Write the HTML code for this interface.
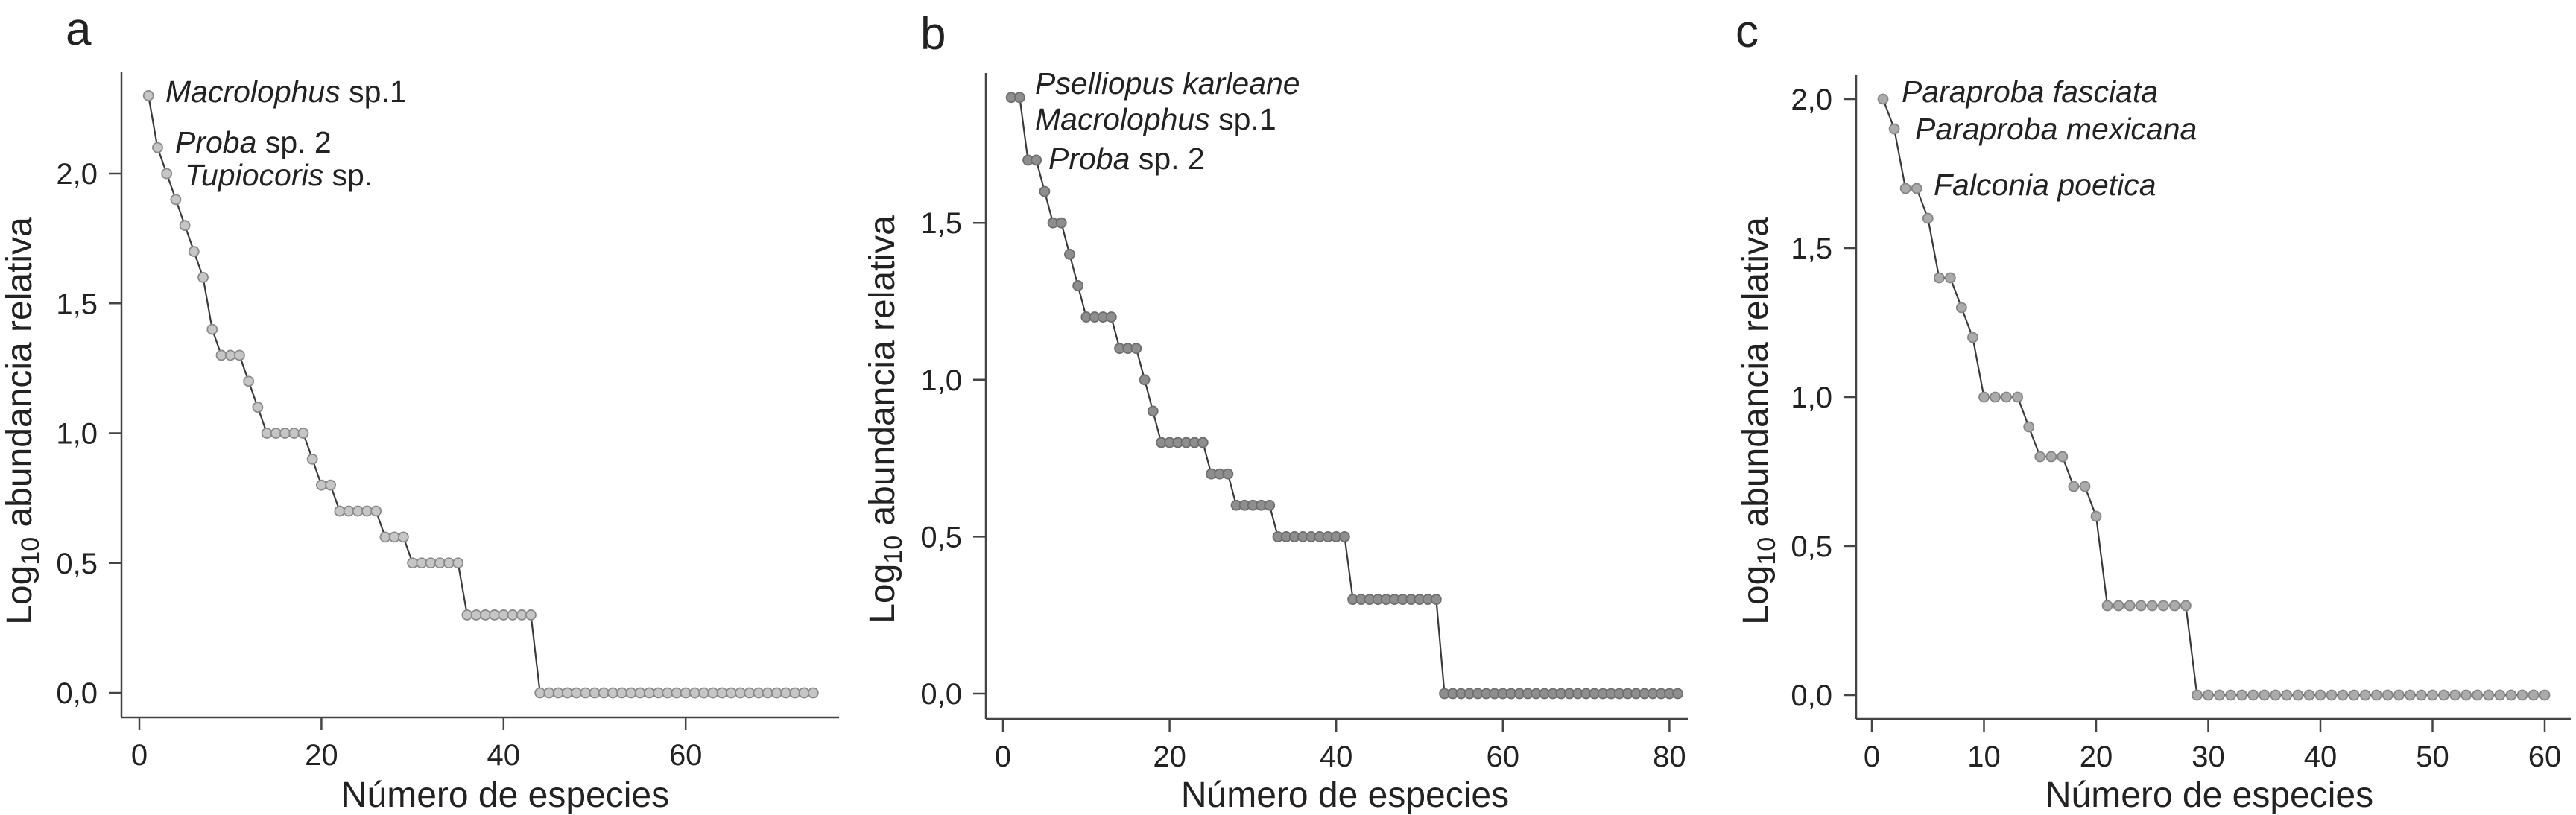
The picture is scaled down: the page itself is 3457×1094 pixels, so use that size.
<!DOCTYPE html>
<html><head><meta charset="utf-8">
<style>
html,body{margin:0;padding:0;background:#fff;}
svg{display:block;font-family:"Liberation Sans",Arial,sans-serif;}
</style></head>
<body>
<svg id="fig" width="3457" height="1094" viewBox="0 0 3457 1094" xmlns="http://www.w3.org/2000/svg"></svg>
<script>
// Panel a data (Log10 relative abundance per species rank)
const valuesA = [2.3,2.1,2.0,1.9,1.8,1.7,1.6,1.4,1.3,1.3,1.3,1.2,1.1,1.0,1.0,1.0,1.0,1.0,0.9,0.8,0.8,0.7,0.7,0.7,0.7,0.7,0.6,0.6,0.6,0.5,0.5,0.5,0.5,0.5,0.5,0.3,0.3,0.3,0.3,0.3,0.3,0.3,0.3,0,0,0,0,0,0,0,0,0,0,0,0,0,0,0,0,0,0,0,0,0,0,0,0,0,0,0,0,0,0,0];
// Panel b data
const valuesB = [1.9,1.9,1.7,1.7,1.6,1.5,1.5,1.4,1.3,1.2,1.2,1.2,1.2,1.1,1.1,1.1,1.0,0.9,0.8,0.8,0.8,0.8,0.8,0.8,0.7,0.7,0.7,0.6,0.6,0.6,0.6,0.6,0.5,0.5,0.5,0.5,0.5,0.5,0.5,0.5,0.5,0.3,0.3,0.3,0.3,0.3,0.3,0.3,0.3,0.3,0.3,0.3,0,0,0,0,0,0,0,0,0,0,0,0,0,0,0,0,0,0,0,0,0,0,0,0,0,0,0,0,0];
// Panel c data
const valuesC = [2.0,1.9,1.7,1.7,1.6,1.4,1.4,1.3,1.2,1.0,1.0,1.0,1.0,0.9,0.8,0.8,0.8,0.7,0.7,0.6,0.3,0.3,0.3,0.3,0.3,0.3,0.3,0.3,0,0,0,0,0,0,0,0,0,0,0,0,0,0,0,0,0,0,0,0,0,0,0,0,0,0,0,0,0,0,0,0];
const yTicksA = [0,0.5,1.0,1.5,2.0];
const yTickLabelsA = ["0,0","0,5","1,0","1,5","2,0"];
const xTicksA = [0,20,40,60];
const yTicksB = [0,0.5,1.0,1.5];
const yTickLabelsB = ["0,0","0,5","1,0","1,5"];
const xTicksB = [0,20,40,60,80];
const yTicksC = [0,0.5,1.0,1.5,2.0];
const yTickLabelsC = ["0,0","0,5","1,0","1,5","2,0"];
const xTicksC = [0,10,20,30,40,50,60];
const annotA = ["Macrolophus|sp.1","Proba|sp. 2","Tupiocoris|sp."];
const annotB = ["Pselliopus karleane|","Macrolophus|sp.1","Proba|sp. 2"];
const annotC = ["Paraproba fasciata|","Paraproba mexicana|","Falconia poetica|"];

const NS = "http://www.w3.org/2000/svg";
const svg = document.getElementById('fig');
function mk(tag, attrs, parent){
  const e = document.createElementNS(NS, tag);
  for (const k in attrs) e.setAttribute(k, attrs[k]);
  (parent||svg).appendChild(e);
  return e;
}

const panels = [
  {id:'a', values:valuesA, yTicks:yTicksA, yLabels:yTickLabelsA, xTicks:xTicksA, annot:annotA,
   axX:163, axTop:97, axBot:963, axRight:1126, x0px:187, xPer:12.22, y0px:930, yPer:348.5,
   fill:'#c6c6c6', stroke:'#8a8a8a', letterX:88, letterY:60,
   annPos:[[222,137],[235,205],[248,249]], yTitleX:42, yTitleY:565, xTitleX:678},
  {id:'b', values:valuesB, yTicks:yTicksB, yLabels:yTickLabelsB, xTicks:xTicksB, annot:annotB,
   axX:1323, axTop:98, axBot:965, axRight:2265, x0px:1346, xPer:11.18, y0px:931, yPer:421.2,
   fill:'#8e8e8e', stroke:'#6e6e6e', letterX:1235, letterY:66,
   annPos:[[1389,126],[1389,174],[1407,227]], yTitleX:1200, yTitleY:563, xTitleX:1805},
  {id:'c', values:valuesC, yTicks:yTicksC, yLabels:yTickLabelsC, xTicks:xTicksC, annot:annotC,
   axX:2491, axTop:101, axBot:965, axRight:3450, x0px:2512, xPer:15.05, y0px:933, yPer:400,
   fill:'#ababab', stroke:'#858585', letterX:2329, letterY:63,
   annPos:[[2552,137],[2570,187],[2595,262]], yTitleX:2372, yTitleY:565, xTitleX:2965}
];

panels.forEach(p => {
  const g = mk('g', {});
  
  
  const xs = v => p.x0px + v * p.xPer;
  const ys = v => p.y0px - v * p.yPer;

  const letter = mk('text', {x:p.letterX, y:p.letterY, 'font-size':62, fill:'#222'}, g);
  letter.textContent = p.id;
  
  

  const yAxis = mk('line', {x1:p.axX, y1:p.axTop, x2:p.axX, y2:p.axBot, stroke:'#444', 'stroke-width':2.5}, g);
  
  
  const xAxis = mk('line', {x1:p.axX, y1:p.axBot, x2:p.axRight, y2:p.axBot, stroke:'#444', 'stroke-width':2.5}, g);
  
  

  p.yTicks.forEach((t, i) => {
    const y = ys(t);
    const tk = mk('line', {x1:p.axX-17, y1:y, x2:p.axX, y2:y, stroke:'#444', 'stroke-width':2.5}, g);
    
    
    const lb = mk('text', {x:p.axX-32, y:y+14, 'font-size':40, 'text-anchor':'end', fill:'#222'}, g);
    lb.textContent = p.yLabels[i];
    
    
  });
  p.xTicks.forEach(t => {
    const x = xs(t);
    const tk = mk('line', {x1:x, y1:p.axBot, x2:x, y2:p.axBot+17, stroke:'#444', 'stroke-width':2.5}, g);
    
    
    const lb = mk('text', {x:x, y:p.axBot+64, 'font-size':40, 'text-anchor':'middle', fill:'#222'}, g);
    lb.textContent = String(t);
    
    
  });

  const xt = mk('text', {x:p.xTitleX, y:1083, 'font-size':48, 'text-anchor':'middle', fill:'#222'}, g);
  xt.textContent = 'Número de especies';
  
  

  const yt = mk('text', {x:0, y:0, 'font-size':48, 'text-anchor':'middle', fill:'#222',
    transform:'translate(' + p.yTitleX + ',' + p.yTitleY + ') rotate(-90)'}, g);
  yt.innerHTML = 'Log<tspan font-size="34" dy="10">10</tspan><tspan dy="-10"> abundancia relativa</tspan>';
  
  

  const pts = p.values.map((v, i) => xs(i+1).toFixed(1) + ',' + ys(v).toFixed(1)).join(' ');
  const line = mk('polyline', {points:pts, fill:'none', stroke:'#3a3a3a', 'stroke-width':2.2}, g);
  
  

  p.values.forEach((v, i) => {
    const c = mk('circle', {cx:xs(i+1), cy:ys(v), r:6.5, fill:p.fill, stroke:p.stroke, 'stroke-width':1.8}, g);
    
    
  });

  p.annot.forEach((a, i) => {
    const parts = a.split('|');
    const t = mk('text', {x:p.annPos[i][0], y:p.annPos[i][1], 'font-size':41, fill:'#222'}, g);
    t.innerHTML = '<tspan font-style="italic">' + parts[0] + '</tspan>' + (parts[1] ? ' ' + parts[1] : '');
    
    
  });
});
</script>
</body></html>
